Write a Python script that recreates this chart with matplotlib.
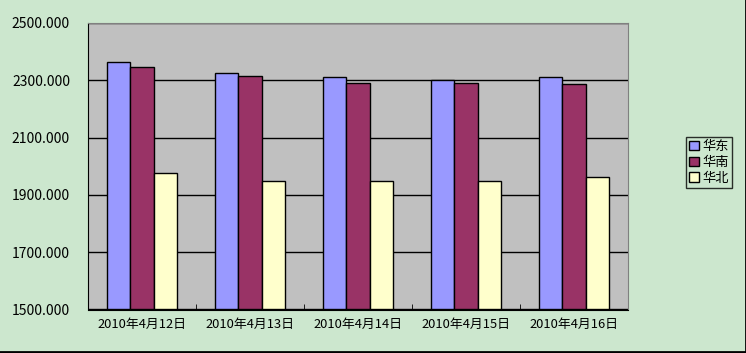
import numpy as np
import matplotlib
matplotlib.use("Agg")
import matplotlib.pyplot as plt
from matplotlib.lines import Line2D

plt.rcParams['font.family'] = ['Noto Sans CJK SC', 'DejaVu Sans']

# data
dates = ["2010年4月12日", "2010年4月13日", "2010年4月14日", "2010年4月15日", "2010年4月16日"]
east = [2363, 2324, 2310, 2300, 2310]    # 华东
south = [2345, 2314, 2289, 2289, 2286]   # 华南
north = [1975, 1950, 1950, 1950, 1964]   # 华北
series_names = ["华东", "华南", "华北"]
colors = ["#9999FF", "#993366", "#FFFFCC"]
yticks = [1500, 1700, 1900, 2100, 2300, 2500]

bg = "#CCE7CE"
W, H = 746, 353
fig = plt.figure(figsize=(W / 100, H / 100), dpi=100)
fig.patch.set_facecolor(bg)
ax = fig.add_axes([88 / W, 1 - 309.5 / H, 540 / W, 286.5 / H])
ax.set_facecolor("#C0C0C0")

x = np.arange(len(dates))
bw = 0.213
for i, (vals, name, c) in enumerate(zip([east, south, north], series_names, colors)):
    ax.bar(x + (i - 1) * bw, np.array(vals) - 1500, bw, bottom=1500, color=c,
           edgecolor="black", linewidth=1, label=name, zorder=3)

ax.set_xlim(-0.5, len(dates) - 0.5)
ax.set_ylim(1500, 2500)
ax.set_yticks(yticks)
ax.set_yticklabels([f"{v:.3f}" for v in yticks], fontsize=10)
ax.yaxis.grid(True, color="black", linewidth=1, zorder=1)
ax.tick_params(axis="y", length=0, pad=13)

ax.set_xticks(x)
ax.set_xticklabels(dates, fontsize=9.3)
ax.tick_params(axis="x", length=0, pad=6)
ax.set_xticks(np.arange(0.5, len(dates) - 1, 1), minor=True)
ax.tick_params(axis="x", which="minor", direction="in", length=4, color="black")

for side in ["left", "bottom"]:
    ax.spines[side].set_color("black")
for side in ["top", "right"]:
    ax.spines[side].set_color("#808080")

leg = fig.legend(loc="upper left", bbox_to_anchor=(686 / W, 1 - 137 / H),
                 frameon=True, fancybox=False, fontsize=9.5, handlelength=0.7,
                 handleheight=0.7, handletextpad=0.3, borderpad=0.25,
                 labelspacing=0.2, borderaxespad=0)
leg.get_frame().set_edgecolor("black")
leg.get_frame().set_facecolor(bg)
leg.get_frame().set_linewidth(1)

# chart border only visible on the right and bottom
fig.lines.append(Line2D([0, 1, 1], [0.002, 0.002, 1], transform=fig.transFigure,
                        color="black", linewidth=2))

fig.savefig("out.png", dpi=100, facecolor=fig.get_facecolor())
